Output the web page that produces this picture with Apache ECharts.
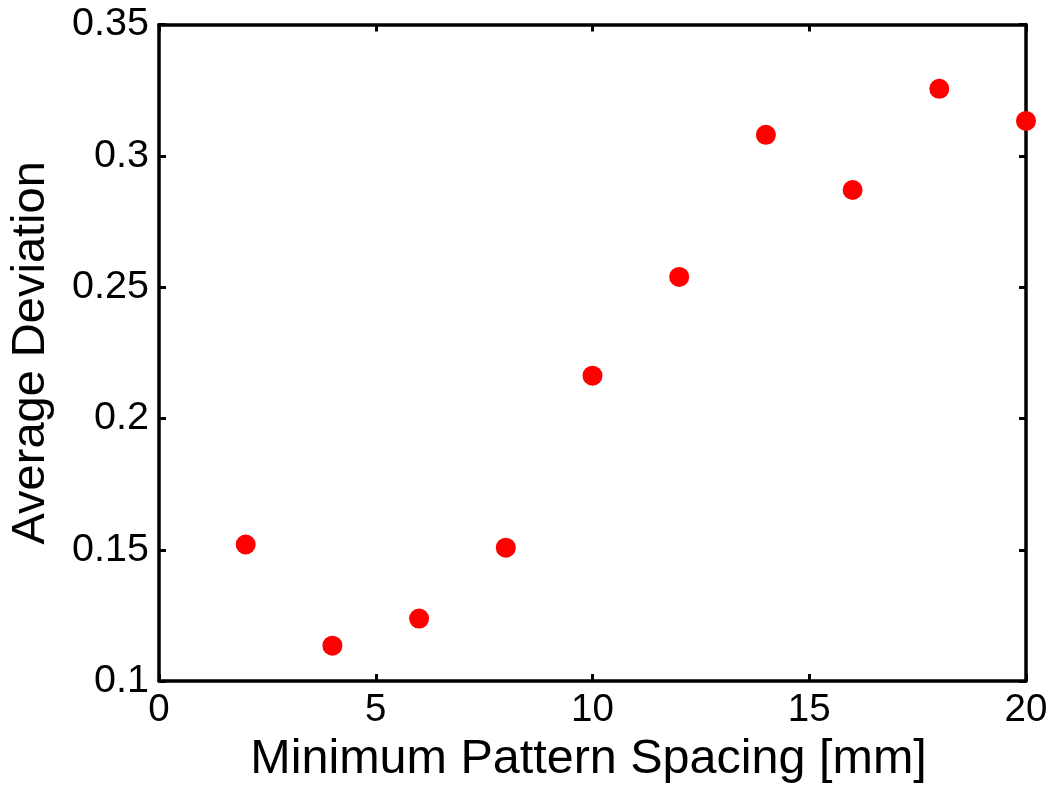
<!DOCTYPE html>
<html>
<head>
<meta charset="utf-8">
<script src="https://cdn.jsdelivr.net/npm/echarts@6/dist/echarts.min.js"></script>
<style>
html,body{margin:0;padding:0;background:#fff;}
#chart{width:1056px;height:789px;}
</style>
</head>
<body>
<div id="chart"></div>
<script>
const spacing = [2, 4, 6, 8, 10, 12, 14, 16, 18, 20];
const deviation = [0.152, 0.1135, 0.1238, 0.1508, 0.2163, 0.2539, 0.308, 0.287, 0.3255, 0.3133];
const xTitle = 'Minimum Pattern Spacing [mm]';
const yTitle = 'Average Deviation';

const chart = echarts.init(document.getElementById('chart'));
const font = 'Liberation Sans, Arial, sans-serif';
const lineStyle = {color: '#000', width: 3.5};
const tickStyle = {show: true, inside: true, length: 7, lineStyle: {color: '#000', width: 3}};
chart.setOption({
  animation: false,
  backgroundColor: '#fff',
  grid: {left: 158.5, top: 24.5, right: 30, bottom: 107.5, show: false},
  xAxis: [{
    type: 'value', min: 0, max: 20, interval: 5, position: 'bottom',
    name: xTitle, nameLocation: 'middle', nameGap: 50,
    nameTextStyle: {fontFamily: font, fontSize: 48.5, color: '#000', padding: [0, 8, 0, 0]},
    axisLine: {show: true, onZero: false, lineStyle: lineStyle},
    axisTick: tickStyle,
    axisLabel: {fontFamily: font, fontSize: 38.5, color: '#000', margin: 10},
    splitLine: {show: false}
  }, {
    type: 'value', min: 0, max: 20, interval: 5, position: 'top',
    axisLine: {show: true, onZero: false, lineStyle: lineStyle},
    axisTick: tickStyle, axisLabel: {show: false}, splitLine: {show: false}
  }],
  yAxis: [{
    type: 'value', min: 0.1, max: 0.35, interval: 0.05, position: 'left',
    name: yTitle, nameLocation: 'middle', nameGap: 104,
    nameTextStyle: {fontFamily: font, fontSize: 47, color: '#000'},
    axisLine: {show: true, onZero: false, lineStyle: lineStyle},
    axisTick: tickStyle,
    axisLabel: {fontFamily: font, fontSize: 39.5, color: '#000', margin: 10,
      formatter: v => String(parseFloat(v.toFixed(2)))},
    splitLine: {show: false}
  }, {
    type: 'value', min: 0.1, max: 0.35, interval: 0.05, position: 'right',
    axisLine: {show: true, onZero: false, lineStyle: lineStyle},
    axisTick: tickStyle, axisLabel: {show: false}, splitLine: {show: false}
  }],
  series: [{
    type: 'scatter',
    data: spacing.map((x, i) => [x, deviation[i]]),
    symbol: 'circle', symbolSize: 20,
    itemStyle: {color: '#ff0000', opacity: 1},
    clip: false, z: 5
  }]
});
</script>
</body>
</html>
